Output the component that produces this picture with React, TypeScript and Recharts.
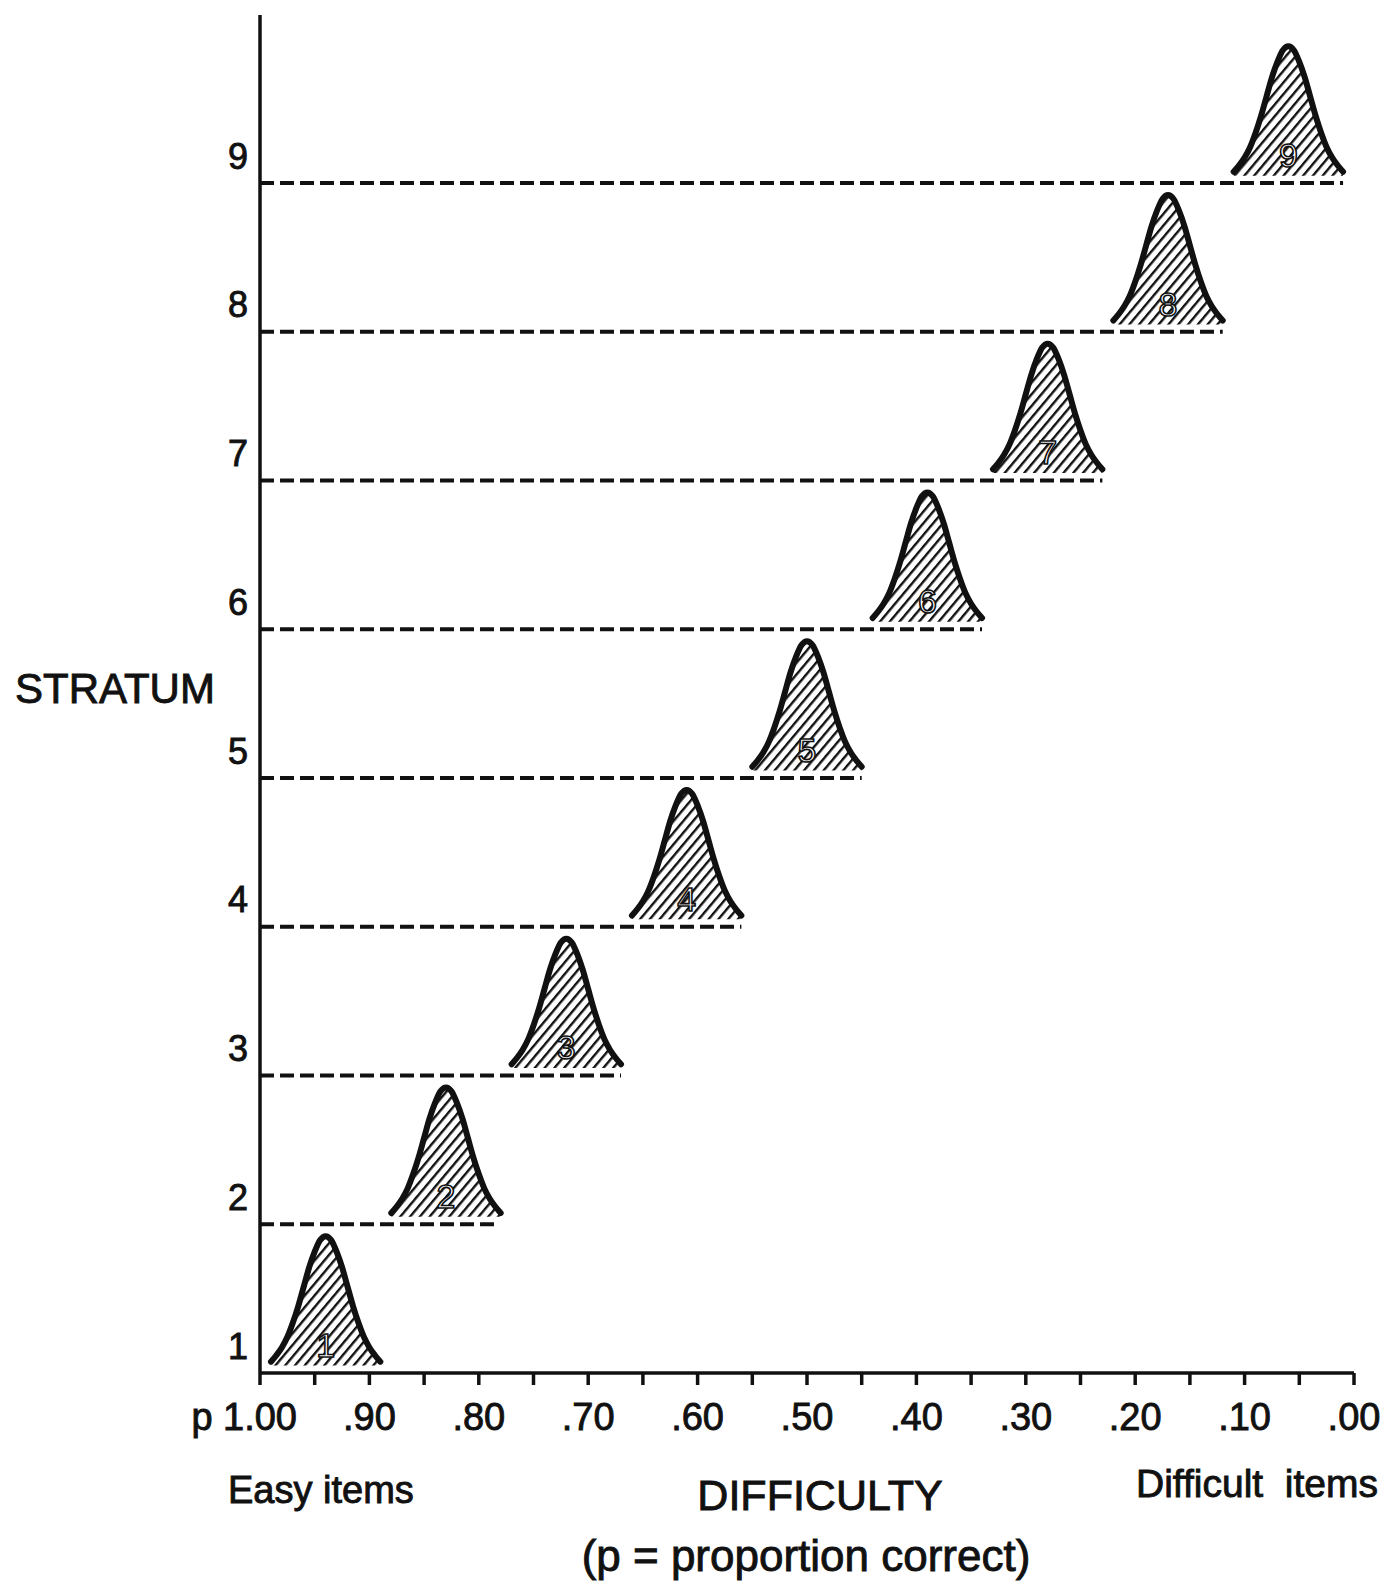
import { Area, ComposedChart, Line, Scatter, XAxis, YAxis } from "recharts";

// strata and where each stratum's item-difficulty distribution is centred (p)
const STRATA = [1, 2, 3, 4, 5, 6, 7, 8, 9];
const STRATUM_CENTERS = [0.94, 0.83, 0.72, 0.61, 0.5, 0.39, 0.28, 0.17, 0.06];
// right end (p) of the dashed baseline for strata 2..9
const DASH_ENDS = [0.785, 0.67, 0.56, 0.45, 0.34, 0.23, 0.12, 0.01];

// shape of one distribution: offset from centre in p, relative height
const PROFILE_OFFSETS = [
  -0.05, -0.045, -0.04, -0.035, -0.03, -0.025, -0.02, -0.015, -0.01, -0.005, 0,
  0.005, 0.01, 0.015, 0.02, 0.025, 0.03, 0.035, 0.04, 0.045, 0.05,
];
const PROFILE_HEIGHTS = [
  0.03, 0.08, 0.14, 0.22, 0.33, 0.46, 0.61, 0.76, 0.88, 0.97, 1,
  0.97, 0.88, 0.76, 0.61, 0.46, 0.33, 0.22, 0.14, 0.08, 0.03,
];
const PEAK_HEIGHT = 0.87;
const BASE_LIFT = 0.05;

const X_TICKS = [
  1, 0.95, 0.9, 0.85, 0.8, 0.75, 0.7, 0.65, 0.6, 0.55, 0.5, 0.45, 0.4, 0.35, 0.3,
  0.25, 0.2, 0.15, 0.1, 0.05, 0,
];
const X_MAJOR = [100, 90, 80, 70, 60, 50, 40, 30, 20, 10, 0];
const X_LABELS = ["1.00", ".90", ".80", ".70", ".60", ".50", ".40", ".30", ".20", ".10", ".00"];

const FONT = "'Liberation Sans', Arial, sans-serif";
const INK = "#111";
// hand-lettered text is heavier than the regular face
const INKED = { stroke: INK, strokeWidth: 0.9 };

const curves = STRATA.map((stratum, i) => ({
  stratum,
  base: stratum + BASE_LIFT,
  points: PROFILE_OFFSETS.map((offset, k) => ({
    p: STRATUM_CENTERS[i] + offset,
    y: stratum + BASE_LIFT + PEAK_HEIGHT * PROFILE_HEIGHTS[k],
  })),
}));

const dashes = STRATA.slice(1).map((stratum, i) => ({
  stratum,
  points: [
    { p: 1, y: stratum },
    { p: DASH_ENDS[i], y: stratum },
  ],
}));

const curveLabels = STRATA.map((stratum, i) => ({
  p: STRATUM_CENTERS[i],
  y: stratum + 0.19,
  label: String(stratum),
}));

function StratumTick({ x, y, payload }: any) {
  return (
    <text
      x={x}
      y={y - 27}
      textAnchor="end"
      dominantBaseline="central"
      fontSize={36}
      fontFamily={FONT}
      fill={INK}
      {...INKED}
    >
      {payload.value}
    </text>
  );
}

function DifficultyTick({ x, y, payload }: any) {
  const idx = X_MAJOR.indexOf(Math.round(payload.value * 100));
  if (idx < 0) return <g />;
  return (
    <g>
      {idx === 0 && (
        <text x={x - 58} y={y + 30} textAnchor="middle" dominantBaseline="central" fontSize={38} fontFamily={FONT} fill={INK} {...INKED}>
          p
        </text>
      )}
      <text x={x} y={y + 30} textAnchor="middle" dominantBaseline="central" fontSize={38} fontFamily={FONT} fill={INK} {...INKED}>
        {X_LABELS[idx]}
      </text>
    </g>
  );
}

function CurveNumber({ cx, cy, payload }: any) {
  return (
    <text
      x={cx}
      y={cy}
      textAnchor="middle"
      dominantBaseline="central"
      fontSize={34}
      fontFamily={FONT}
      fill="#fff"
      stroke={INK}
      strokeWidth={1.6}
    >
      {payload.label}
    </text>
  );
}

export default function App() {
  return (
    <div style={{ position: "absolute", left: 0, top: 0, width: 1395, height: 1584, background: "#fff" }}>
      <ComposedChart width={1395} height={1584} margin={{ top: 15, right: 41, bottom: 151, left: 160 }}>
        <defs>
          <pattern id="hatch" patternUnits="userSpaceOnUse" width={7.5} height={7.5} patternTransform="rotate(40)">
            <line x1={1} y1={0} x2={1} y2={7.5} stroke={INK} strokeWidth={2.8} />
          </pattern>
        </defs>
        <XAxis
          type="number"
          dataKey="p"
          domain={[0, 1]}
          reversed
          allowDataOverflow
          ticks={X_TICKS}
          interval={0}
          height={60}
          tickSize={12}
          axisLine={{ stroke: INK, strokeWidth: 3.5 }}
          tickLine={{ stroke: INK, strokeWidth: 3.5 }}
          tick={<DifficultyTick />}
        />
        <YAxis
          type="number"
          dataKey="y"
          domain={[1, 10.13]}
          allowDataOverflow
          ticks={STRATA}
          interval={0}
          width={100}
          tickSize={0}
          tickMargin={12}
          tickLine={false}
          axisLine={{ stroke: INK, strokeWidth: 3.5 }}
          tick={<StratumTick />}
        />
        {dashes.map((d) => (
          <Line
            key={`dash-${d.stratum}`}
            data={d.points}
            dataKey="y"
            type="linear"
            stroke={INK}
            strokeWidth={4}
            strokeDasharray="14 6"
            dot={false}
            activeDot={false}
            isAnimationActive={false}
          />
        ))}
        {curves.map((c) => (
          <Area
            key={`curve-${c.stratum}`}
            data={c.points}
            dataKey="y"
            type="monotone"
            baseValue={c.base}
            stroke={INK}
            strokeWidth={6}
            strokeLinecap="round"
            fill="url(#hatch)"
            fillOpacity={1}
            dot={false}
            activeDot={false}
            isAnimationActive={false}
          />
        ))}
        <Scatter data={curveLabels} dataKey="y" shape={<CurveNumber />} isAnimationActive={false} />
      </ComposedChart>
      <svg
        width={1395}
        height={1584}
        style={{ position: "absolute", left: 0, top: 0, pointerEvents: "none" }}
        fontFamily={FONT}
        fill={INK}
        stroke={INK}
        strokeWidth={0.9}
      >
        <text x={15} y={688} fontSize={42} dominantBaseline="central">
          STRATUM
        </text>
        <text x={228} y={1490} fontSize={38} dominantBaseline="central">
          Easy items
        </text>
        <text x={820} y={1495} fontSize={43} textAnchor="middle" dominantBaseline="central">
          DIFFICULTY
        </text>
        <text x={806} y={1555} fontSize={44} textAnchor="middle" dominantBaseline="central">
          (p = proportion correct)
        </text>
        <text x={1136} y={1483} fontSize={39} dominantBaseline="central" style={{ whiteSpace: "pre" }}>
          Difficult  items
        </text>
      </svg>
    </div>
  );
}
